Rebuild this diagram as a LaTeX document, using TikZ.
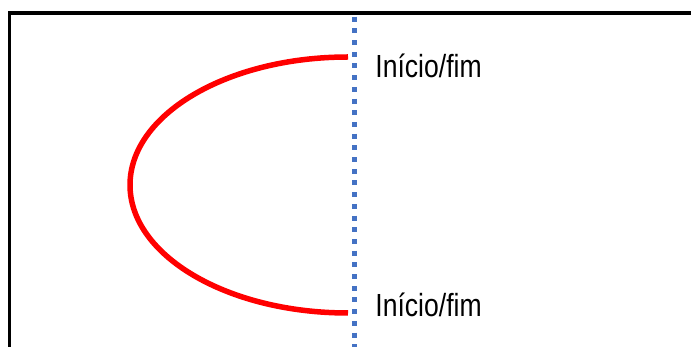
\documentclass[tikz,border=0pt]{standalone}
\usepackage{fontspec}
\newfontfamily\labelfont{Liberation Sans}[FakeStretch=0.83]
\usepackage{tikz}
\usetikzlibrary{positioning}
\definecolor{axisblue}{RGB}{68,114,196}
\tikzset{
  frame/.style={draw=black, line width=1.75pt},
  axisline/.style={draw=axisblue, line width=2.5pt, dash pattern=on 2.5pt off 3.35pt},
  pathline/.style={draw=red, line width=2.75pt},
  endlabel/.style={anchor=base west, inner sep=0pt,
    font=\labelfont\fontsize{16}{19}\selectfont}
}
\begin{document}
\begin{tikzpicture}[x=0.5pt, y=0.5pt]
  \useasboundingbox (0,0) rectangle (691,347);
  \clip (0,0) rectangle (691,347);
  \draw[frame] (9.3,-20) -- (9.3,334) -- (720,334);

  % symmetry axis
  \coordinate (axistop) at (354.5,330.3);
  \coordinate (axisbot) at (354.5,-5);
  \draw[axisline] (axistop) -- (axisbot);

  % half ellipse from start to end
  \coordinate (start) at (348,290);
  \coordinate (finish) at (348,34);
  \draw[pathline] (start) arc[start angle=90, end angle=270,
    x radius=218, y radius=128] -- (finish);

  \node[endlabel] (toplabel) at (375,269) {Início/fim};
  \node[endlabel] (botlabel) at (375,30) {Início/fim};
\end{tikzpicture}
\end{document}
